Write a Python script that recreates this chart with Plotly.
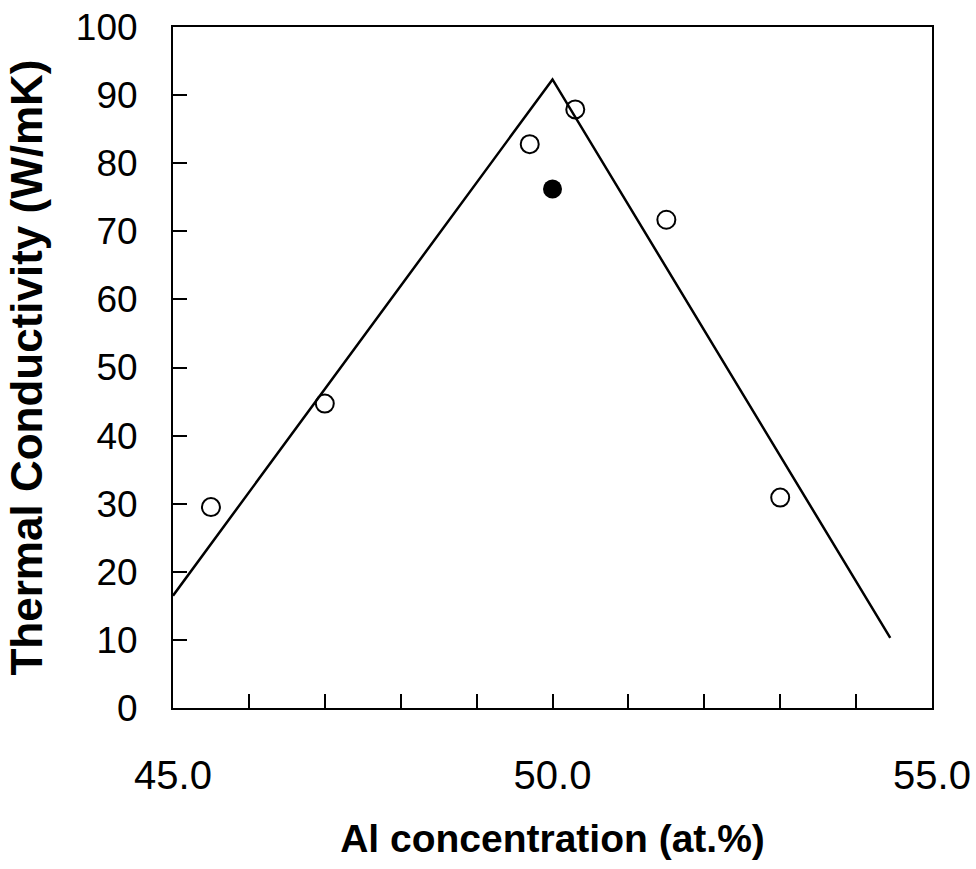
import plotly.graph_objects as go

# data
open_x = [45.5, 47.0, 49.7, 50.3, 51.5, 53.0]
open_y = [29.5, 44.7, 82.8, 87.9, 71.7, 30.9]
filled_x = [50.0]
filled_y = [76.2]
line_x = [45.0, 50.0, 54.45]
line_y = [16.5, 92.3, 10.3]
x_tickvals = [45, 50, 55]
x_ticktext = ["45.0", "50.0", "55.0"]
y_tickvals = list(range(0, 101, 10))

fig = go.Figure()
fig.add_trace(go.Scatter(x=line_x, y=line_y, mode="lines",
                         line=dict(color="black", width=2.5), showlegend=False))
fig.add_trace(go.Scatter(x=open_x, y=open_y, mode="markers",
                         marker=dict(symbol="circle-open", size=18, color="black",
                                     line=dict(width=2, color="black")),
                         showlegend=False))
fig.add_trace(go.Scatter(x=filled_x, y=filled_y, mode="markers",
                         marker=dict(symbol="circle", size=19, color="black"),
                         showlegend=False))

fig.update_layout(
    width=976, height=869,
    margin=dict(l=173, r=44, t=27, b=161),
    paper_bgcolor="white", plot_bgcolor="white",
    font=dict(family="Liberation Sans, Arial, sans-serif", color="black"),
)
fig.update_xaxes(
    range=[45, 55], tickvals=x_tickvals, ticktext=x_ticktext,
    ticks="inside", ticklen=14, tickwidth=1.5, tickcolor="black",
    minor=dict(dtick=1, ticks="inside", ticklen=14, tickwidth=1.5, tickcolor="black"),
    showline=True, linecolor="black", linewidth=2, mirror=True,
    showgrid=False, zeroline=False, automargin=False,
    tickfont=dict(size=40), ticklabelstandoff=31,
    title=dict(text="<b>Al concentration (at.%)</b>", font=dict(size=39), standoff=29),
)
fig.update_yaxes(
    range=[0, 100], tickvals=y_tickvals,
    ticks="inside", ticklen=14, tickwidth=1.5, tickcolor="black",
    showline=True, linecolor="black", linewidth=2, mirror=True,
    showgrid=False, zeroline=False, automargin=False,
    tickfont=dict(size=37), ticklabelstandoff=26,
    title=dict(text="<b>Thermal Conductivity (W/mK)</b>", font=dict(size=44), standoff=19),
)
fig.write_html("out.html")
